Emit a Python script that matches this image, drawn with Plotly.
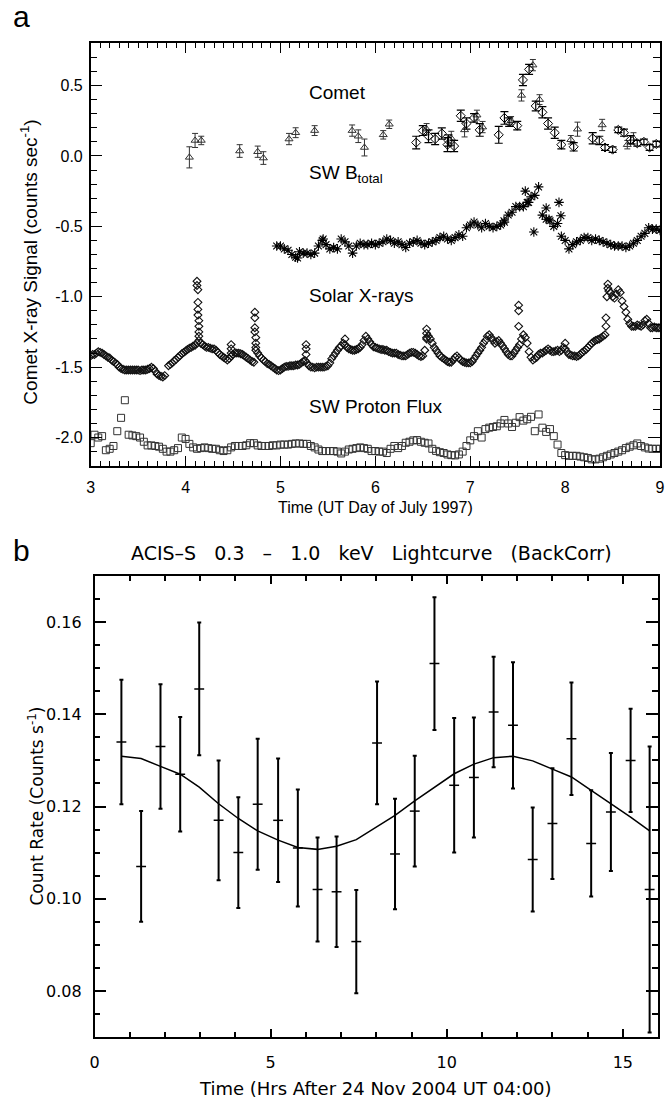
import numpy as np
import plotly.graph_objects as go

# ---------------- Panel a data ----------------
# Comet (triangles)
tri_t = [4.04, 4.10, 4.165, 4.57, 4.76, 4.82, 5.09, 5.16, 5.36, 5.755,
         5.82, 5.885, 6.083, 6.146, 6.54, 6.80, 6.94, 7.07, 7.13, 7.43,
         7.54, 7.66, 7.73, 8.06, 8.13, 8.39, 8.655, 8.72]
tri_v = [-0.01, 0.11, 0.11, 0.035, 0.03, -0.015, 0.12, 0.165, 0.18, 0.18,
         0.14, 0.06, 0.15, 0.225, 0.19, 0.125, 0.185, 0.29, 0.205, 0.25,
         0.43, 0.645, 0.40, 0.115, 0.19, 0.22, 0.08, 0.125]
tri_e = [0.075, 0.05, 0.03, 0.045, 0.04, 0.045, 0.04, 0.035, 0.035, 0.04,
         0.045, 0.06, 0.03, 0.03, 0.04, 0.05, 0.05, 0.035, 0.04, 0.03,
         0.04, 0.04, 0.035, 0.03, 0.05, 0.04, 0.03, 0.04]
# Comet (diamonds)
dia_t = [6.43, 6.50, 6.56, 6.63, 6.70, 6.76, 6.77, 6.83, 6.90, 6.96,
         7.04, 7.10, 7.30, 7.36, 7.41, 7.495, 7.555, 7.62, 7.69, 7.76,
         7.82, 7.89, 7.96, 8.09, 8.29, 8.36, 8.42, 8.50, 8.56, 8.62,
         8.69, 8.76, 8.83, 8.89, 8.96]
dia_v = [0.095, 0.18, 0.14, 0.12, 0.16, 0.08, 0.11, 0.07, 0.285, 0.23,
         0.27, 0.185, 0.15, 0.27, 0.24, 0.215, 0.54, 0.615, 0.355, 0.31,
         0.23, 0.165, 0.08, 0.065, 0.125, 0.11, 0.06, 0.045, 0.185, 0.165,
         0.115, 0.09, 0.10, 0.06, 0.085]
dia_e = [0.045, 0.035, 0.045, 0.04, 0.04, 0.05, 0.04, 0.04, 0.04, 0.04,
         0.03, 0.045, 0.06, 0.045, 0.03, 0.03, 0.04, 0.035, 0.035, 0.04,
         0.04, 0.04, 0.03, 0.03, 0.04, 0.03, 0.02, 0.02, 0.02, 0.025,
         0.03, 0.02, 0.02, 0.02, 0.02]

# SW B total (asterisks), sampled 4.96 .. 9.00
btot_start, btot_end = 4.96, 9.00
btot_v = [-0.64, -0.64, -0.66, -0.67, -0.70, -0.72, -0.68, -0.69, -0.69, -0.70,
          -0.69, -0.64, -0.60, -0.63, -0.66, -0.65, -0.66, -0.59, -0.61, -0.64,
          -0.69, -0.64, -0.62, -0.63, -0.63, -0.62, -0.63, -0.62, -0.61, -0.59,
          -0.60, -0.62, -0.61, -0.63, -0.65, -0.62, -0.61, -0.60, -0.62, -0.63,
          -0.62, -0.61, -0.60, -0.58, -0.57, -0.59, -0.60, -0.58, -0.56, -0.57,
          -0.51, -0.49, -0.47, -0.49, -0.51, -0.48, -0.50, -0.51, -0.50, -0.49,
          -0.47, -0.42, -0.40, -0.36, -0.36, -0.36, -0.33, -0.29, -0.28, -0.22,
          -0.42, -0.45, -0.46, -0.50, -0.48, -0.57, -0.60, -0.66, -0.63, -0.61,
          -0.60, -0.58, -0.58, -0.60, -0.59, -0.60, -0.61, -0.62, -0.63, -0.64,
          -0.64, -0.64, -0.65, -0.64, -0.62, -0.60, -0.57, -0.55, -0.51, -0.52,
          -0.52, -0.53]
btot_out_t = [5.18, 5.45, 7.355, 7.58, 7.615, 7.67, 7.80, 7.83, 7.935, 7.955]
btot_out_v = [-0.725, -0.59, -0.46, -0.25, -0.33, -0.54, -0.37, -0.45, -0.33, -0.425]

# Solar X-rays (diamonds)
sx1_start, sx1_end = 3.00, 3.78
sx1_v = [-1.42, -1.41, -1.41, -1.40, -1.39, -1.395, -1.40, -1.41, -1.42, -1.43,
         -1.435, -1.45, -1.46, -1.47, -1.48, -1.50, -1.51, -1.515, -1.52, -1.52,
         -1.52, -1.52, -1.52, -1.52, -1.52, -1.52, -1.525, -1.52, -1.52, -1.52,
         -1.515, -1.51, -1.50, -1.51, -1.53, -1.55, -1.56, -1.565, -1.57, -1.56]
sx2_start, sx2_end = 3.82, 9.00
sx2_v = [-1.49, -1.48, -1.47, -1.455, -1.445, -1.43, -1.42, -1.405, -1.395, -1.385,
         -1.375, -1.365, -1.36, -1.35, -1.345, -1.33, -1.31, -1.33, -1.34, -1.35,
         -1.36, -1.36, -1.365, -1.37, -1.37, -1.38, -1.395, -1.41, -1.42, -1.43,
         -1.44, -1.45, -1.44, -1.42, -1.41, -1.40, -1.40, -1.40, -1.405, -1.41,
         -1.42, -1.43, -1.44, -1.45, -1.46, -1.465, -1.38, -1.40, -1.42, -1.435,
         -1.45, -1.46, -1.475, -1.48, -1.49, -1.50, -1.51, -1.52, -1.525, -1.52,
         -1.51, -1.50, -1.495, -1.495, -1.49, -1.49, -1.49, -1.485, -1.485, -1.48,
         -1.47, -1.46, -1.455, -1.47, -1.49, -1.50, -1.50, -1.505, -1.50, -1.50,
         -1.50, -1.50, -1.50, -1.495, -1.49, -1.47, -1.44, -1.42, -1.40, -1.38,
         -1.36, -1.35, -1.33, -1.34, -1.36, -1.37, -1.375, -1.38, -1.38, -1.375,
         -1.37, -1.36, -1.34, -1.31, -1.28, -1.30, -1.32, -1.34, -1.355, -1.36,
         -1.365, -1.37, -1.375, -1.375, -1.38, -1.38, -1.39, -1.395, -1.40, -1.40,
         -1.40, -1.41, -1.415, -1.42, -1.42, -1.42, -1.41, -1.40, -1.395, -1.395,
         -1.40, -1.41, -1.42, -1.425, -1.42, -1.38, -1.30, -1.28, -1.30, -1.33,
         -1.36, -1.38, -1.40, -1.42, -1.43, -1.44, -1.45, -1.46, -1.465, -1.465,
         -1.45, -1.43, -1.42, -1.435, -1.45, -1.46, -1.465, -1.47, -1.47, -1.47,
         -1.46, -1.44, -1.42, -1.40, -1.38, -1.36, -1.33, -1.31, -1.28, -1.27,
         -1.29, -1.31, -1.33, -1.32, -1.31, -1.33, -1.35, -1.37, -1.39, -1.41,
         -1.42, -1.42, -1.40, -1.38, -1.36, -1.34, -1.30, -1.27, -1.29, -1.33,
         -1.39, -1.43, -1.45, -1.44, -1.43, -1.41, -1.40, -1.40, -1.39, -1.38,
         -1.37, -1.38, -1.39, -1.39, -1.385, -1.38, -1.39, -1.38, -1.36, -1.37,
         -1.39, -1.41, -1.415, -1.42, -1.42, -1.425, -1.42, -1.41, -1.395, -1.385,
         -1.375, -1.36, -1.345, -1.33, -1.32, -1.31, -1.305, -1.30, -1.29, -1.28,
         -1.27, -1.00, -0.96, -0.97, -1.00, -1.01, -0.98, -0.95, -0.97, -1.03,
         -1.07, -1.11, -1.16, -1.19, -1.21, -1.21, -1.21, -1.20, -1.205, -1.21,
         -1.20, -1.17, -1.16, -1.19, -1.22, -1.22, -1.215, -1.22, -1.22, -1.22]
sx_spike_t = [4.12, 4.12, 4.13, 4.13, 4.13, 4.13, 4.14, 4.14, 4.14, 4.14,
              4.48, 4.48, 4.48, 4.73, 4.73, 4.73, 4.73, 4.74, 4.74, 4.74,
              5.27, 5.27, 5.27, 5.68, 6.54, 6.54, 6.54, 7.51, 7.51, 7.51,
              8.00, 8.43, 8.43, 8.45, 8.45]
sx_spike_v = [-0.89, -0.92, -0.95, -1.04, -1.09, -1.13, -1.17, -1.21, -1.25, -1.28,
              -1.34, -1.37, -1.40, -1.11, -1.15, -1.22, -1.25, -1.29, -1.33, -1.36,
              -1.34, -1.37, -1.41, -1.30, -1.23, -1.26, -1.29, -1.06, -1.10, -1.21,
              -1.33, -1.15, -1.21, -0.91, -0.94]

# SW Proton flux (squares), sampled 3.00 .. 9.00
pf_start, pf_end = 3.00, 9.00
pf_v = [-2.04, -1.98, -2.00, -1.99, -2.09, -2.08, -2.06, -1.955, -1.86, -1.735,
        -1.98, -1.985, -1.99, -2.00, -2.03, -2.056, -2.056, -2.06, -2.065, -2.08,
        -2.10, -2.10, -2.09, -2.075, -2.00, -2.01, -2.045, -2.07, -2.08, -2.075,
        -2.07, -2.075, -2.08, -2.08, -2.09, -2.096, -2.09, -2.07, -2.06, -2.06,
        -2.06, -2.055, -2.04, -2.04, -2.056, -2.06, -2.06, -2.06, -2.055, -2.056,
        -2.05, -2.05, -2.05, -2.045, -2.042, -2.042, -2.045, -2.045, -2.06, -2.07,
        -2.085, -2.096, -2.096, -2.096, -2.096, -2.10, -2.113, -2.10, -2.085, -2.08,
        -2.075, -2.07, -2.075, -2.08, -2.096, -2.096, -2.10, -2.10, -2.11, -2.08,
        -2.06, -2.075, -2.06, -2.037, -2.03, -2.02, -2.018, -2.03, -2.037, -2.042,
        -2.08, -2.095, -2.104, -2.11, -2.12, -2.125, -2.127, -2.12, -2.10, -2.06,
        -2.02, -1.99, -1.955, -2.00, -1.94, -1.93, -1.925, -1.92, -1.90, -1.875,
        -1.90, -1.925, -1.895, -1.855, -1.88, -1.87, -1.853, -1.955, -1.836, -1.93,
        -1.96, -1.94, -1.99, -2.05, -2.11, -2.125, -2.13, -2.13, -2.13, -2.135,
        -2.14, -2.145, -2.155, -2.155, -2.15, -2.14, -2.13, -2.12, -2.11, -2.10,
        -2.09, -2.075, -2.065, -2.055, -2.042, -2.06, -2.07, -2.078, -2.08, -2.08,
        -2.08]

labels_a = ["Comet", "SW B<sub>total</sub>", "Solar X-rays", "SW Proton Flux"]
labels_a_y = [0.45, -0.13, -0.99, -1.78]
xticks_a = [3, 4, 5, 6, 7, 8, 9]
yticks_a = [0.5, 0.0, -0.5, -1.0, -1.5, -2.0]
yticks_a_text = ["0.5", "0.0", "-0.5", "-1.0", "-1.5", "-2.0"]

# ---------------- Panel b data ----------------
b_t = [0.76, 1.32, 1.87, 2.43, 2.97, 3.52, 4.08, 4.63, 5.21, 5.77,
       6.33, 6.87, 7.43, 8.02, 8.53, 9.09, 9.65, 10.21, 10.77, 11.33,
       11.88, 12.44, 13.00, 13.54, 14.10, 14.66, 15.22, 15.76]
b_v = [0.134, 0.107, 0.133, 0.127, 0.1455, 0.117, 0.110, 0.1205, 0.117, 0.111,
       0.102, 0.1015, 0.0907, 0.1338, 0.1097, 0.119, 0.151, 0.1246, 0.1263, 0.1405,
       0.1376, 0.1085, 0.1163, 0.1347, 0.112, 0.1188, 0.130, 0.102]
b_e = [0.0135, 0.012, 0.0135, 0.0124, 0.0144, 0.013, 0.012, 0.0142, 0.0134, 0.0127,
       0.0113, 0.012, 0.0112, 0.0133, 0.012, 0.012, 0.0144, 0.0146, 0.013, 0.012,
       0.0137, 0.0113, 0.012, 0.0122, 0.0115, 0.0128, 0.0112, 0.031]
b_model = [0.1309, 0.1304, 0.1287, 0.1270, 0.1242, 0.1206, 0.1174, 0.1147, 0.1127, 0.1111,
           0.1107, 0.1114, 0.1128, 0.1156, 0.1181, 0.1212, 0.1242, 0.1271, 0.1292, 0.1306,
           0.1309, 0.1299, 0.1281, 0.1264, 0.1235, 0.1206, 0.1177, 0.1147]
b_binhalf = 0.14
xticks_b = [0, 5, 10, 15]
yticks_b = [0.08, 0.10, 0.12, 0.14, 0.16]
yticks_b_text = ["0.08", "0.10", "0.12", "0.14", "0.16"]

# ---------------- Figure ----------------
W, H = 668, 1099
def px(x):
    return x / W
def py(y):
    return 1 - y / H

FA = "Liberation Sans, Arial, sans-serif"
FB = "DejaVu Sans, sans-serif"
BLK = "#000000"

fig = go.Figure()

# Proton flux
fig.add_trace(go.Scatter(
    x=np.linspace(pf_start, pf_end, len(pf_v)), y=pf_v, mode="markers",
    marker=dict(symbol="square-open", size=7, color="#333333", line=dict(width=1)),
    xaxis="x", yaxis="y", showlegend=False))
# Solar X-rays
fig.add_trace(go.Scatter(
    x=list(np.linspace(sx1_start, sx1_end, len(sx1_v))) + list(np.linspace(sx2_start, sx2_end, len(sx2_v))) + sx_spike_t,
    y=sx1_v + sx2_v + sx_spike_v, mode="markers",
    marker=dict(symbol="diamond-open", size=6, color="#111111", line=dict(width=1.1)),
    xaxis="x", yaxis="y", showlegend=False))
# SW B total
fig.add_trace(go.Scatter(
    x=list(np.linspace(btot_start, btot_end, len(btot_v))) + btot_out_t,
    y=btot_v + btot_out_v, mode="markers",
    marker=dict(symbol="asterisk-open", size=8, color=BLK, line=dict(width=1.1, color=BLK)),
    xaxis="x", yaxis="y", showlegend=False))
# Comet triangles
fig.add_trace(go.Scatter(
    x=tri_t, y=tri_v, mode="markers",
    error_y=dict(type="data", array=tri_e, visible=True, width=3, thickness=1, color="#333333"),
    marker=dict(symbol="triangle-up-open", size=7, color="#333333", line=dict(width=1)),
    xaxis="x", yaxis="y", showlegend=False))
# Comet diamonds
fig.add_trace(go.Scatter(
    x=dia_t, y=dia_v, mode="markers",
    error_y=dict(type="data", array=dia_e, visible=True, width=4, thickness=1.2, color=BLK),
    marker=dict(symbol="diamond-open", size=7, color=BLK, line=dict(width=1)),
    xaxis="x", yaxis="y", showlegend=False))

# Panel b model curve
fig.add_trace(go.Scatter(
    x=b_t, y=b_model, mode="lines", line=dict(color=BLK, width=1.5),
    xaxis="x2", yaxis="y2", showlegend=False))
# Panel b error bars
fig.add_trace(go.Scatter(
    x=b_t, y=b_v, mode="markers",
    marker=dict(size=1, color="rgba(0,0,0,0)"),
    error_y=dict(type="data", array=b_e, visible=True, width=2, thickness=2, color=BLK),
    error_x=dict(type="constant", value=b_binhalf, visible=True, width=0, thickness=1.5, color=BLK),
    xaxis="x2", yaxis="y2", showlegend=False))

axis_common = dict(showgrid=False, zeroline=False, showline=True, linecolor=BLK,
                   mirror="allticks", ticks="inside", tickcolor=BLK,
                   ticklabeloverflow="allow")

fig.update_layout(
    width=W, height=H,
    margin=dict(l=0, r=0, t=0, b=0),
    paper_bgcolor="white", plot_bgcolor="white",
    xaxis=dict(domain=[px(87), px(665)], range=[3, 9], tickvals=xticks_a,
               ticklen=10, tickwidth=1.2, linewidth=1.5,
               minor=dict(dtick=0.1, tick0=3, ticks="inside", ticklen=5, tickcolor=BLK, tickwidth=1),
               tickfont=dict(family=FA, size=16, color=BLK), ticklabelstandoff=6,
               anchor="y", **axis_common),
    yaxis=dict(domain=[py(465.7), py(43.3)], range=[-2.2, 0.8], tickvals=yticks_a,
               ticktext=yticks_a_text, ticklen=12, tickwidth=1.2, linewidth=1.5,
               minor=dict(dtick=0.1, tick0=0, ticks="inside", ticklen=7, tickcolor=BLK, tickwidth=1),
               tickfont=dict(family=FA, size=16, color=BLK), ticklabelstandoff=3,
               anchor="x", **axis_common),
    xaxis2=dict(domain=[px(91), px(663)], range=[0, 16], tickvals=xticks_b,
                ticklen=8, tickwidth=1.5, linewidth=1.5,
                minor=dict(dtick=1, tick0=0, ticks="inside", ticklen=5, tickcolor=BLK, tickwidth=1.5),
                tickfont=dict(family=FB, size=16, color=BLK), ticklabelstandoff=10,
                anchor="y2", **axis_common),
    yaxis2=dict(domain=[py(1037), py(576)], range=[0.07, 0.17], tickvals=yticks_b,
                ticktext=yticks_b_text, ticklen=12, tickwidth=1.5, linewidth=1.5,
                minor=dict(dtick=0.005, tick0=0, ticks="inside", ticklen=6, tickcolor=BLK, tickwidth=1.5),
                tickfont=dict(family=FB, size=16, color=BLK), ticklabelstandoff=8,
                anchor="x2", **axis_common),
)

annotations = []
# panel labels
annotations.append(dict(x=px(6), y=py(17), xref="paper", yref="paper", text="a",
                        showarrow=False, xanchor="left", yanchor="middle",
                        font=dict(family=FA, size=30, color=BLK)))
annotations.append(dict(x=px(6), y=py(550), xref="paper", yref="paper", text="b",
                        showarrow=False, xanchor="left", yanchor="middle",
                        font=dict(family=FA, size=30, color=BLK)))
# panel a series labels
for lab, yy in zip(labels_a, labels_a_y):
    annotations.append(dict(x=5.28, y=yy, xref="x", yref="y", text=lab, showarrow=False,
                            xanchor="left", yanchor="middle",
                            font=dict(family=FA, size=19, color=BLK)))
# axis titles panel a
annotations.append(dict(x=px(376), y=py(508), xref="paper", yref="paper",
                        text="Time (UT Day of July 1997)", showarrow=False,
                        xanchor="center", yanchor="middle",
                        font=dict(family=FA, size=16, color=BLK)))
annotations.append(dict(x=px(24), y=py(262), xref="paper", yref="paper",
                        text="Comet X-ray Signal (counts sec<sup>-1</sup>)", showarrow=False,
                        textangle=-90, xanchor="center", yanchor="middle",
                        font=dict(family=FA, size=19, color=BLK)))
# panel b title and axis titles
annotations.append(dict(x=px(372), y=py(553), xref="paper", yref="paper",
                        text="ACIS\u2013S   0.3   \u2013   1.0   keV   Lightcurve   (BackCorr)", showarrow=False,
                        xanchor="center", yanchor="middle",
                        font=dict(family=FB, size=19, color=BLK)))
annotations.append(dict(x=px(376), y=py(1088), xref="paper", yref="paper",
                        text="Time (Hrs After 24 Nov 2004 UT 04:00)", showarrow=False,
                        xanchor="center", yanchor="middle",
                        font=dict(family=FB, size=18, color=BLK)))
annotations.append(dict(x=px(31), y=py(806), xref="paper", yref="paper",
                        text="Count Rate (Counts s<sup>-1</sup>)", showarrow=False,
                        textangle=-90, xanchor="center", yanchor="middle",
                        font=dict(family=FB, size=17, color=BLK)))

fig.update_layout(annotations=annotations)

fig.write_html("out.html", config={"displayModeBar": False},
               post_script="document.body.style.margin='0';document.body.style.overflow='hidden';")
